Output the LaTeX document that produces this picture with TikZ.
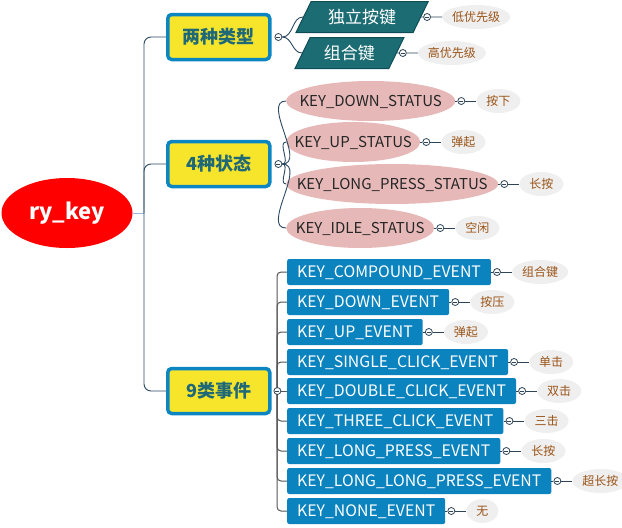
\documentclass[tikz,border=0pt]{standalone}
\usepackage{fontspec}
\setmainfont{Noto Sans CJK SC}
\usepackage{tikz}
\usetikzlibrary{positioning,shapes}
\definecolor{rootred}{HTML}{FF0000}
\definecolor{kindyellow}{HTML}{F6E52A}
\definecolor{kindblue}{HTML}{0B86C3}
\definecolor{kindtext}{HTML}{1E6878}
\definecolor{typeteal}{HTML}{1C6C74}
\definecolor{typedark}{HTML}{0E4D55}
\definecolor{statuspink}{HTML}{E6B9B8}
\definecolor{eventblue}{HTML}{0A83BF}
\definecolor{notegrey}{HTML}{EFEFEF}
\definecolor{notebrown}{HTML}{9A5418}
\definecolor{knobline}{HTML}{2E4559}
\definecolor{branchline}{HTML}{2B4862}
\definecolor{eventline}{HTML}{555555}
\definecolor{rootline}{HTML}{9DBADB}
\tikzstyle{RootNode} = [ellipse, fill=rootred, text=white,
    font=\fontsize{22}{26}\selectfont\bfseries, minimum width=131pt, minimum height=70pt, inner sep=0pt]
\tikzstyle{KindBox} = [rectangle, rounded corners=4pt, draw=kindblue, line width=3.5pt, fill=kindyellow,
    text=kindtext, font=\fontsize{18}{22}\selectfont\bfseries, minimum width=102pt, minimum height=45pt, anchor=west]
\tikzstyle{TypeBox} = [trapezium, trapezium left angle=64, trapezium right angle=116, draw=typedark, line width=1pt,
    fill=typeteal, text=white, font=\fontsize{17}{20}\selectfont, minimum height=31pt, inner xsep=3pt, anchor=west]
\tikzstyle{StatusBox} = [ellipse, fill=statuspink, text=black!85, font=\fontsize{15}{18}\selectfont,
    text height=11pt, text depth=0pt, inner xsep=-40pt, inner ysep=-6pt, minimum height=40pt, anchor=west]
\tikzstyle{EventBox} = [rectangle, rounded corners=2pt, fill=eventblue, text=white,
    font=\fontsize{15.8}{18}\selectfont, text height=11.5pt, text depth=0pt, minimum height=26pt, inner xsep=10pt, anchor=west]
\tikzstyle{NoteBox} = [ellipse, fill=notegrey, text=notebrown, font=\fontsize{12}{14}\selectfont,
    inner xsep=-20pt, inner ysep=-4pt, minimum width=44pt, minimum height=24pt]
\tikzstyle{Knob} = [circle, draw=knobline, fill=white, line width=0.8pt, minimum size=7pt, inner sep=0pt,
    path picture={\draw[knobline, line width=0.6pt] ([xshift=-2pt]path picture bounding box.center) -- ([xshift=2pt]path picture bounding box.center);}]
\tikzstyle{branch} = [draw=branchline, line width=0.9pt]
\tikzstyle{eventwire} = [draw=eventline, line width=1pt, rounded corners=4pt]
\tikzstyle{notewire} = [draw=knobline, line width=0.9pt]

\begin{document}
\begin{tikzpicture}[x=1pt, y=-1pt]
        \useasboundingbox (0,0) rectangle (622,528);
        \node[RootNode] (Root) at (67,213) {ry\_key}; %root
        \node[KindBox] (Types) at (166,37) {两种类型}; %types
        \node[KindBox] (States) at (166,164) {4种状态}; %states
        \node[KindBox] (Events) at (166,391) {9类事件}; %events
        \coordinate (RootTrunk) at (144,213);
        \draw[draw=rootline, line width=1pt] (Root.east) -- (RootTrunk);
        \draw[branch, rounded corners=7pt] (RootTrunk) |- (Types.west);
        \draw[branch, rounded corners=7pt] (RootTrunk) |- (States.west);
        \draw[branch, rounded corners=7pt] (RootTrunk) |- (Events.west);
        % two types
        \node[Knob, right=3pt of Types] (TypesK) {};
        \node[TypeBox] (Single) at (303,17) {独立按键}; %single key
        \node[TypeBox] (Combo) at (302,53) {组合键}; %combo key
        \draw[branch] (TypesK) to[out=0, in=180] (Single.west);
        \draw[branch] (TypesK) to[out=0, in=180] (Combo.west);
        \node[Knob, right=2pt of Single] (SingleK) {};
        \node[NoteBox, right=11pt of SingleK, minimum width=68pt] (SingleN) {低优先级};
        \draw[notewire] (Single) -- (SingleK) -- (SingleN);
        \node[Knob, right=2pt of Combo] (ComboK) {};
        \node[NoteBox, right=11pt of ComboK, minimum width=68pt] (ComboN) {高优先级};
        \draw[notewire] (Combo) -- (ComboK) -- (ComboN);
        % four states
        \node[Knob, right=3pt of States] (StatesK) {};
        \node[StatusBox, minimum width=169pt] (DownS) at (286,101) {KEY\_DOWN\_STATUS};
        \node[StatusBox, minimum width=134pt] (UpS) at (286,142) {KEY\_UP\_STATUS};
        \node[StatusBox, minimum width=212pt] (LongS) at (286,184) {KEY\_LONG\_PRESS\_STATUS};
        \node[StatusBox, minimum width=148pt] (IdleS) at (286,228) {KEY\_IDLE\_STATUS};
        \draw[branch] (StatesK) to[out=0, in=180] (DownS.west);
        \draw[branch] (StatesK) to[out=0, in=180] (UpS.west);
        \draw[branch] (StatesK) to[out=0, in=180] (LongS.west);
        \draw[branch] (StatesK) to[out=0, in=180] (IdleS.west);
        \node[Knob, right=2pt of DownS] (DownSK) {};
        \node[NoteBox, right=11pt of DownSK] (DownSN) {按下};
        \draw[notewire] (DownS) -- (DownSK) -- (DownSN);
        \node[Knob, right=2pt of UpS] (UpSK) {};
        \node[NoteBox, right=11pt of UpSK] (UpSN) {弹起};
        \draw[notewire] (UpS) -- (UpSK) -- (UpSN);
        \node[Knob, right=2pt of LongS] (LongSK) {};
        \node[NoteBox, right=11pt of LongSK] (LongSN) {长按};
        \draw[notewire] (LongS) -- (LongSK) -- (LongSN);
        \node[Knob, right=2pt of IdleS] (IdleSK) {};
        \node[NoteBox, right=11pt of IdleSK] (IdleSN) {空闲};
        \draw[notewire] (IdleS) -- (IdleSK) -- (IdleSN);
        % nine events
        \node[EventBox] (CompE) at (287,272) {KEY\_COMPOUND\_EVENT};
        \node[EventBox] (DownE) at (287,302) {KEY\_DOWN\_EVENT};
        \node[EventBox] (UpE) at (287,332) {KEY\_UP\_EVENT};
        \node[EventBox] (OneE) at (287,362) {KEY\_SINGLE\_CLICK\_EVENT};
        \node[EventBox] (TwoE) at (287,391) {KEY\_DOUBLE\_CLICK\_EVENT};
        \node[EventBox] (ThreeE) at (287,421) {KEY\_THREE\_CLICK\_EVENT};
        \node[EventBox] (LongE) at (287,451) {KEY\_LONG\_PRESS\_EVENT};
        \node[EventBox] (LongLongE) at (287,481) {KEY\_LONG\_LONG\_PRESS\_EVENT};
        \node[EventBox] (NoneE) at (287,511) {KEY\_NONE\_EVENT};
        \coordinate (EventTrunk) at (277,391);
        \draw[eventwire] (EventTrunk) |- (CompE.west);
        \draw[eventwire] (EventTrunk) |- (DownE.west);
        \draw[eventwire] (EventTrunk) |- (UpE.west);
        \draw[eventwire] (EventTrunk) |- (OneE.west);
        \draw[eventwire] (EventTrunk) -- (TwoE.west);
        \draw[eventwire] (EventTrunk) |- (ThreeE.west);
        \draw[eventwire] (EventTrunk) |- (LongE.west);
        \draw[eventwire] (EventTrunk) |- (LongLongE.west);
        \draw[eventwire] (EventTrunk) |- (NoneE.west);
        \node[Knob, right=2pt of Events] (EventsK) {};
        \node[Knob, right=2pt of CompE] (CompEK) {};
        \node[NoteBox, right=11pt of CompEK, minimum width=56pt] (CompEN) {组合键};
        \draw[notewire] (CompE) -- (CompEK) -- (CompEN);
        \node[Knob, right=2pt of DownE] (DownEK) {};
        \node[NoteBox, right=11pt of DownEK] (DownEN) {按压};
        \draw[notewire] (DownE) -- (DownEK) -- (DownEN);
        \node[Knob, right=2pt of UpE] (UpEK) {};
        \node[NoteBox, right=11pt of UpEK] (UpEN) {弹起};
        \draw[notewire] (UpE) -- (UpEK) -- (UpEN);
        \node[Knob, right=2pt of OneE] (OneEK) {};
        \node[NoteBox, right=11pt of OneEK] (OneEN) {单击};
        \draw[notewire] (OneE) -- (OneEK) -- (OneEN);
        \node[Knob, right=2pt of TwoE] (TwoEK) {};
        \node[NoteBox, right=11pt of TwoEK] (TwoEN) {双击};
        \draw[notewire] (TwoE) -- (TwoEK) -- (TwoEN);
        \node[Knob, right=2pt of ThreeE] (ThreeEK) {};
        \node[NoteBox, right=11pt of ThreeEK] (ThreeEN) {三击};
        \draw[notewire] (ThreeE) -- (ThreeEK) -- (ThreeEN);
        \node[Knob, right=2pt of LongE] (LongEK) {};
        \node[NoteBox, right=11pt of LongEK] (LongEN) {长按};
        \draw[notewire] (LongE) -- (LongEK) -- (LongEN);
        \node[Knob, right=2pt of LongLongE] (LongLongEK) {};
        \node[NoteBox, right=11pt of LongLongEK, minimum width=56pt] (LongLongEN) {超长按};
        \draw[notewire] (LongLongE) -- (LongLongEK) -- (LongLongEN);
        \node[Knob, right=2pt of NoneE] (NoneEK) {};
        \node[NoteBox, right=11pt of NoneEK, minimum width=32pt] (NoneEN) {无};
        \draw[notewire] (NoneE) -- (NoneEK) -- (NoneEN);
    \end{tikzpicture}
\end{document}
